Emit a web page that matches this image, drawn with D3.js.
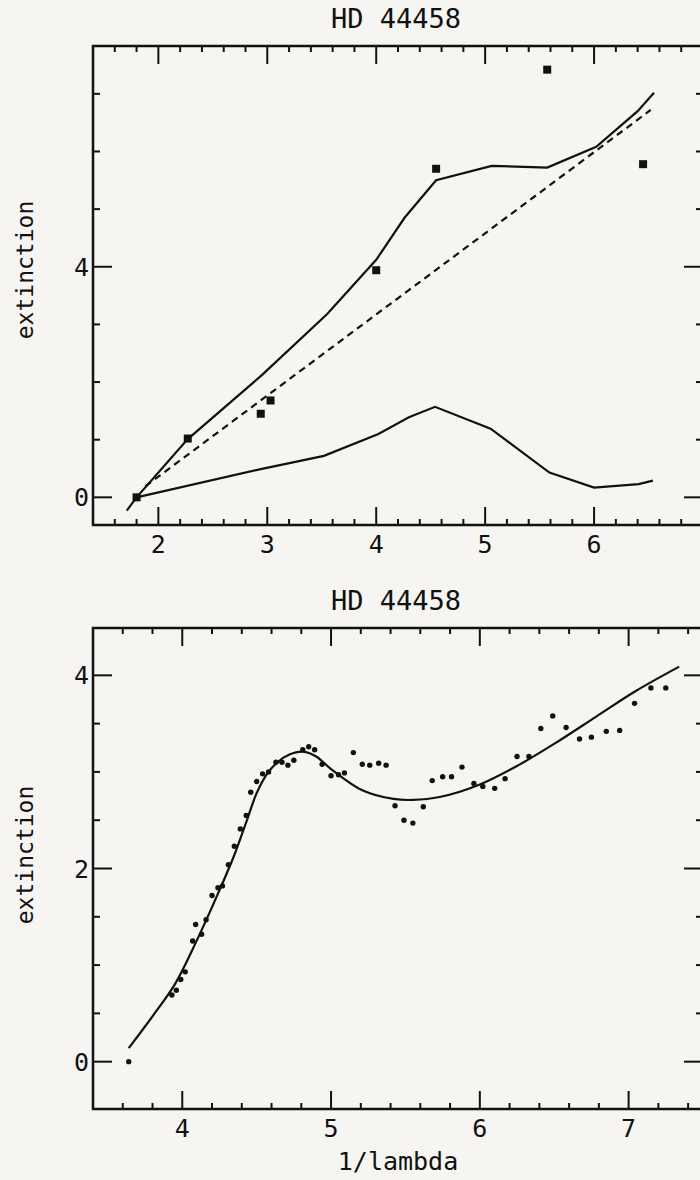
<!DOCTYPE html>
<html>
<head>
<meta charset="utf-8">
<script src="https://cdn.jsdelivr.net/npm/d3@7"></script>
<style>
  html, body { margin: 0; padding: 0; background: #f6f5f2; }
  svg { display: block; }
  text { font-family: "DejaVu Sans Mono", "Liberation Mono", monospace; fill: #111; }
</style>
</head>
<body>
<div id="chart"></div>
<script>
// --- data ---
var starName = 'HD 44458';
var yTitle = 'extinction';
var xTitle = '1/lambda';

// upper panel: broad-band extinction
var topObsX = [1.80, 2.27, 2.94, 3.03, 4.00, 4.55, 5.57, 6.45];
var topObsY = [0.00, 1.02, 1.45, 1.68, 3.94, 5.70, 7.42, 5.78];
var topModelX = [1.71, 1.80, 2.27, 2.95, 3.55, 4.00, 4.26, 4.55, 5.06, 5.57, 6.02, 6.40, 6.55];
var topModelY = [-0.23, 0.00, 1.01, 2.12, 3.18, 4.12, 4.85, 5.50, 5.75, 5.72, 6.08, 6.70, 7.02];
var topBumpX = [1.80, 2.94, 3.52, 4.02, 4.30, 4.54, 5.05, 5.59, 6.00, 6.41, 6.54];
var topBumpY = [0.00, 0.49, 0.72, 1.10, 1.39, 1.57, 1.19, 0.43, 0.17, 0.23, 0.29];
var topLinearX = [1.88, 6.52];
var topLinearY = [0.19, 6.72];
var topXTicks = [1.6, 1.8, 2, 2.2, 2.4, 2.6, 2.8, 3, 3.2, 3.4, 3.6, 3.8, 4, 4.2, 4.4, 4.6, 4.8, 5, 5.2, 5.4, 5.6, 5.8, 6, 6.2, 6.4, 6.6, 6.8];
var topXLabels = [2, 3, 4, 5, 6];
var topYTicks = [0, 1, 2, 3, 4, 5, 6, 7];
var topYLabels = [0, 4];

// lower panel: UV extinction curve
var botObsX = [3.64, 3.93, 3.96, 3.99, 4.02, 4.07, 4.09, 4.13, 4.16, 4.20, 4.24, 4.27, 4.31, 4.35, 4.39, 4.43,
  4.46, 4.50, 4.54, 4.58, 4.63, 4.67, 4.71, 4.75, 4.81, 4.85, 4.89, 4.94, 5.00, 5.05, 5.09, 5.15,
  5.21, 5.26, 5.32, 5.37, 5.43, 5.49, 5.55, 5.62, 5.68, 5.75, 5.81, 5.88, 5.96, 6.02, 6.10, 6.17,
  6.25, 6.33, 6.41, 6.49, 6.58, 6.67, 6.75, 6.85, 6.94, 7.04, 7.15, 7.25];
var botObsY = [0.00, 0.69, 0.74, 0.85, 0.93, 1.25, 1.42, 1.32, 1.47, 1.72, 1.80, 1.82, 2.04, 2.23, 2.41, 2.55,
  2.79, 2.90, 2.98, 3.00, 3.10, 3.10, 3.07, 3.12, 3.23, 3.26, 3.23, 3.08, 2.96, 2.97, 2.99, 3.20,
  3.08, 3.07, 3.09, 3.07, 2.65, 2.50, 2.47, 2.64, 2.91, 2.95, 2.95, 3.05, 2.88, 2.85, 2.83, 2.93,
  3.16, 3.16, 3.45, 3.58, 3.46, 3.34, 3.36, 3.42, 3.43, 3.71, 3.87, 3.87];
var botFitX = [3.64, 3.80, 3.95, 4.09, 4.24, 4.35, 4.43, 4.50, 4.57, 4.64, 4.72, 4.81, 4.90, 5.00,
  5.21, 5.42, 5.55, 5.73, 6.00, 6.26, 6.52, 6.78, 7.04, 7.34];
var botFitY = [0.14, 0.47, 0.80, 1.23, 1.74, 2.14, 2.48, 2.78, 2.98, 3.10, 3.18, 3.21, 3.16, 3.03,
  2.81, 2.72, 2.71, 2.74, 2.87, 3.07, 3.31, 3.57, 3.83, 4.09];
var botXTicks = [3.6, 3.8, 4, 4.2, 4.4, 4.6, 4.8, 5, 5.2, 5.4, 5.6, 5.8, 6, 6.2, 6.4, 6.6, 6.8, 7, 7.2, 7.4];
var botXLabels = [4, 5, 6, 7];
var botYTicks = [0, 0.5, 1, 1.5, 2, 2.5, 3, 3.5, 4];
var botYLabels = [0, 2, 4];

function zip(xs, ys) {
  return xs.map(function (x, i) { return { x: x, y: ys[i] }; });
}

var W = 700, H = 1180;
var svg = d3.select('#chart').append('svg').attr('width', W).attr('height', H);

function drawPanel(p) {
  var x = d3.scaleLinear().domain(p.xDomain).range([93, 703]);
  var y = d3.scaleLinear().domain(p.yDomain).range([p.bottom, p.top]);
  var g = svg.append('g');

  // frame (right edge sits just outside the page)
  g.append('rect')
    .attr('x', 93).attr('y', p.top)
    .attr('width', 610).attr('height', p.bottom - p.top)
    .attr('fill', 'none').attr('stroke', '#111').attr('stroke-width', 2.5);

  // x ticks: up from the bottom, down from the top
  var isMajorX = function (d) { return Math.abs(d - Math.round(d)) < 1e-6; };
  g.selectAll('.xtb').data(p.xTicks).join('line')
    .attr('x1', function (d) { return x(d); }).attr('x2', function (d) { return x(d); })
    .attr('y1', p.bottom).attr('y2', function (d) { return p.bottom - (isMajorX(d) ? 18 : 6); })
    .attr('stroke', '#111').attr('stroke-width', 2);
  g.selectAll('.xtt').data(p.xTicks).join('line')
    .attr('x1', function (d) { return x(d); }).attr('x2', function (d) { return x(d); })
    .attr('y1', p.top).attr('y2', function (d) { return p.top + (isMajorX(d) ? 18 : 6); })
    .attr('stroke', '#111').attr('stroke-width', 2);

  // y ticks on both sides
  var isMajorY = function (d) { return p.yLabels.indexOf(d) >= 0; };
  g.selectAll('.ytl').data(p.yTicks).join('line')
    .attr('x1', 93).attr('x2', function (d) { return 93 + (isMajorY(d) ? 19 : 7); })
    .attr('y1', function (d) { return y(d); }).attr('y2', function (d) { return y(d); })
    .attr('stroke', '#111').attr('stroke-width', 2);
  g.selectAll('.ytr').data(p.yTicks).join('line')
    .attr('x1', 703).attr('x2', function (d) { return 703 - (isMajorY(d) ? 19 : 7); })
    .attr('y1', function (d) { return y(d); }).attr('y2', function (d) { return y(d); })
    .attr('stroke', '#111').attr('stroke-width', 2);

  // labels
  g.selectAll('.xl').data(p.xLabels).join('text')
    .attr('x', function (d) { return x(d); }).attr('y', p.bottom + 28)
    .attr('text-anchor', 'middle').attr('font-size', '25px').text(function (d) { return d; });
  g.selectAll('.yl').data(p.yLabels).join('text')
    .attr('x', 89).attr('y', function (d) { return y(d) + 9; })
    .attr('text-anchor', 'end').attr('font-size', '25px').text(function (d) { return d; });
  g.append('text')
    .attr('x', 396).attr('y', p.top - 18)
    .attr('text-anchor', 'middle').attr('font-size', '27px').text(starName);
  g.append('text')
    .attr('transform', 'translate(33,' + p.yTitleAt + ') rotate(-90)')
    .attr('text-anchor', 'middle').attr('font-size', '23px').text(yTitle);

  var line = d3.line()
    .x(function (d) { return x(d.x); })
    .y(function (d) { return y(d.y); });

  p.lines.forEach(function (l) {
    g.append('path')
      .datum(zip(l.xs, l.ys))
      .attr('d', line.curve(l.curve || d3.curveLinear))
      .attr('fill', 'none')
      .attr('stroke', '#111')
      .attr('stroke-width', 2.2)
      .attr('stroke-dasharray', l.dash || null);
  });

  if (p.squares) {
    g.selectAll('.sq').data(zip(p.squares.xs, p.squares.ys)).join('rect')
      .attr('x', function (d) { return x(d.x) - 4; })
      .attr('y', function (d) { return y(d.y) - 4; })
      .attr('width', 8).attr('height', 8)
      .attr('fill', '#111');
  }
  if (p.dots) {
    g.selectAll('.dot').data(zip(p.dots.xs, p.dots.ys)).join('circle')
      .attr('cx', function (d) { return x(d.x); })
      .attr('cy', function (d) { return y(d.y); })
      .attr('r', 2.7)
      .attr('fill', '#111');
  }
}

drawPanel({
  top: 46, bottom: 525, xDomain: [1.4, 7.0], yDomain: [-0.48, 7.83],
  xTicks: topXTicks, xLabels: topXLabels, yTicks: topYTicks, yLabels: topYLabels,
  yTitleAt: 270,
  lines: [
    { xs: topModelX, ys: topModelY },
    { xs: topBumpX, ys: topBumpY },
    { xs: topLinearX, ys: topLinearY, dash: '7,5' }
  ],
  squares: { xs: topObsX, ys: topObsY }
});

drawPanel({
  top: 628, bottom: 1109, xDomain: [3.4, 7.5], yDomain: [-0.49, 4.49],
  xTicks: botXTicks, xLabels: botXLabels, yTicks: botYTicks, yLabels: botYLabels,
  yTitleAt: 855,
  lines: [
    { xs: botFitX, ys: botFitY, curve: d3.curveCatmullRom }
  ],
  dots: { xs: botObsX, ys: botObsY }
});

svg.append('text')
  .attr('x', 398).attr('y', 1170)
  .attr('text-anchor', 'middle').attr('font-size', '25px').text(xTitle);
</script>
</body>
</html>
